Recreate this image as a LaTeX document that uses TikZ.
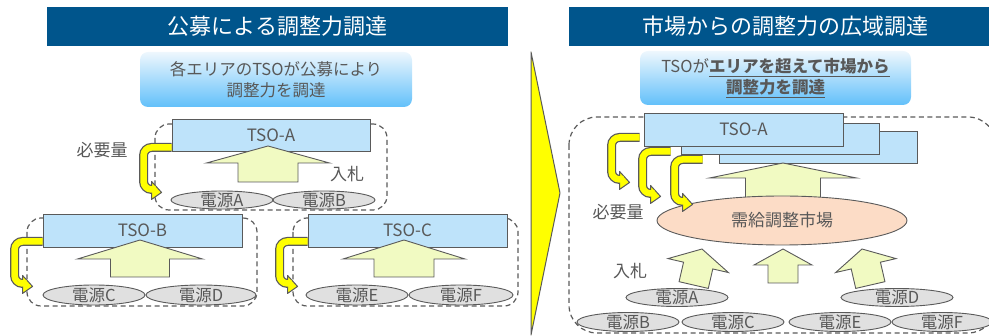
\documentclass[tikz,border=0pt]{standalone}
\usepackage{fontspec}
\setmainfont{Noto Sans CJK JP}
\usetikzlibrary{positioning, calc, shapes.geometric}
\definecolor{TitleBlue}{HTML}{00558C}
\definecolor{BoxBlue}{HTML}{BEE3FA}
\definecolor{SkyTop}{HTML}{EEF7FD}
\definecolor{SkyBottom}{HTML}{62C0FA}
\definecolor{ArrowCream}{HTML}{F1FAC2}
\definecolor{MarketPeach}{HTML}{FCDCC6}
\definecolor{SourceGray}{HTML}{E0E0E0}
\definecolor{EdgeGray}{HTML}{5A5A5A}
\definecolor{TextGray}{HTML}{585858}
\definecolor{HookYellow}{HTML}{FFFF00}

% hook arrow: starts at a box edge, runs left, down, then right
\newcommand{\hookarrow}[1]{%
  \draw[hookedge] (#1) -- ++(-28,0) -- ++(0,42) -- ++(11,0);
  \path (#1) ++(-20,42) coordinate (hk);
  \draw[hookhead] (hk) ++(0,-8) -- ++(10,11) -- ++(-10,7) -- cycle;
  \draw[hookfill] (#1) -- ++(-28,0) -- ++(0,42) -- ++(12,0);
}
% fat arrow: [rotation]{tip}{head half}{head length}{shaft half}{length}
\newcommand{\fatarrow}[6][0]{%
  \draw[fatstyle, shift={#2}, rotate=#1] (0,0) -- (#3,#4) -- (#5,#4) -- (#5,#6)
    -- (-#5,#6) -- (-#5,#4) -- (-#3,#4) -- cycle;
}

\begin{document}
\begin{tikzpicture}[
  x=1pt, y=-1pt,
  font=\fontsize{17}{21}\selectfont, text=TextGray,
  titlebar/.style={rectangle, fill=TitleBlue, text=white, inner sep=0pt,
    minimum height=39pt, font=\fontsize{22}{26}\selectfont},
  subbox/.style={rectangle, rounded corners=8pt, top color=SkyTop,
    bottom color=SkyBottom, inner sep=0pt, align=center,
    font=\fontsize{16.5}{21}\selectfont},
  tsobox/.style={rectangle, draw=EdgeGray, line width=0.9pt, fill=BoxBlue,
    inner sep=0pt},
  srcnode/.style={ellipse, draw=EdgeGray, line width=0.9pt, fill=SourceGray,
    inner sep=0pt, minimum width=102pt, minimum height=18pt},
  srctext/.style={inner sep=0pt, text=TextGray, font=\fontsize{16.5}{20}\selectfont},
  grpbox/.style={draw=EdgeGray, line width=1.2pt, dash pattern=on 5pt off 3.5pt,
    rounded corners=14pt},
  fatstyle/.style={fill=ArrowCream, draw=EdgeGray, line width=0.9pt},
  hookedge/.style={draw=EdgeGray, line width=9pt, rounded corners=8pt},
  hookfill/.style={draw=HookYellow, line width=6.5pt, rounded corners=8pt},
  hookhead/.style={fill=HookYellow, draw=EdgeGray, line width=1pt, line join=round},
  lbl/.style={inner sep=0pt, text=TextGray},
]
  \useasboundingbox (0,0) rectangle (989,336);
  \clip (0,0) rectangle (989,336);

  % Titles
  \node[titlebar, minimum width=461pt] (titleL) at (277.5,26.5) {公募による調整力調達};
  \node[titlebar, minimum width=432pt] (titleR) at (785,26.5) {市場からの調整力の広域調達};

  % Sub titles
  \node[subbox, minimum width=272pt, minimum height=55pt] (subL) at (276,79.5)
    {各エリアのTSOが公募により\\調整力を調達};
  \node[subbox, minimum width=271pt, minimum height=54pt] (subR) at (775.5,78)
    {TSOが\underline{\textbf{エリアを超えて市場から}}\\\underline{\textbf{調整力を調達}}};

  % Middle triangle
  \draw[fill=HookYellow, draw=EdgeGray, line width=1pt, line join=round]
    (531,52) -- (560,193) -- (531,335) -- cycle;

  % ---- Left: area groups
  \draw[grpbox] (155,124) rectangle (387,210);
  \draw[grpbox] (27,218) rectangle (257,306);
  \draw[grpbox] (293,218) rectangle (518,306);

  \node[tsobox, minimum width=198pt, minimum height=32pt] (tsoA) at (271,135) {TSO-A};
  \node[tsobox, minimum width=199pt, minimum height=33pt] (tsoB) at (142.5,230.5) {TSO-B};
  \node[tsobox, minimum width=199pt, minimum height=33pt] (tsoC) at (407.5,230.5) {TSO-C};

  \fatarrow{(268,146)}{61.5}{17}{30}{36}
  \fatarrow{(140,240)}{62.5}{19}{29.5}{37}
  \fatarrow{(404,240)}{61}{19}{30}{37}

  \node[srcnode, label={[srctext]center:電源A}] (srcA) at (222,200) {};
  \node[srcnode, label={[srctext]center:電源B}] (srcB) at (324,200) {};
  \node[srcnode, minimum height=20pt, label={[srctext]center:電源C}] (srcC) at (94,295) {};
  \node[srcnode, minimum width=110pt, minimum height=20pt, label={[srctext]center:電源D}] (srcD) at (201,295) {};
  \node[srcnode, minimum height=20pt, label={[srctext]center:電源E}] (srcE) at (357,295) {};
  \node[srcnode, minimum width=104pt, minimum height=20pt, label={[srctext]center:電源F}] (srcF) at (461,295) {};

  \node[lbl] (needL) at (102,150) {必要量};
  \node[lbl] (bidL) at (347,174) {入札};

  \hookarrow{[yshift=4pt]tsoA.south west}
  \hookarrow{[yshift=6pt]tsoB.south west}
  \hookarrow{[yshift=6pt]tsoC.south west}

  % ---- Right: wide area market
  \draw[grpbox, rounded corners=28pt] (569,117) rectangle (996,333);

  \node[tsobox, minimum width=198pt, minimum height=32pt] (tsoR3) at (818,147) {};
  \node[tsobox, minimum width=198pt, minimum height=31pt] (tsoR2) at (780,138.5) {};
  \node[tsobox, minimum width=199pt, minimum height=33pt] (tsoR1) at (743.5,129.5) {TSO-A};

  \fatarrow{(783,163)}{73.5}{15}{37.5}{45}

  \node[ellipse, draw=EdgeGray, line width=0.9pt, fill=MarketPeach, inner sep=0pt,
    minimum width=250pt, minimum height=49pt] (market) at (782,220.5) {需給調整市場};

  \fatarrow[-13]{(702,249)}{31}{17}{15}{37}
  \fatarrow{(783,249)}{29}{16}{15}{34}
  \fatarrow[13]{(862,249)}{31}{17}{15}{37}

  \node[srcnode, label={[srctext]center:電源A}] (srcRA) at (677,297.5) {};
  \node[srcnode, minimum width=112pt, label={[srctext]center:電源D}] (srcRD) at (897,297.5) {};
  \node[srcnode, minimum height=19pt, label={[srctext]center:電源B}] (srcRB) at (628,322) {};
  \node[srcnode, minimum height=19pt, label={[srctext]center:電源C}] (srcRC) at (733,322) {};
  \node[srcnode, minimum height=19pt, label={[srctext]center:電源E}] (srcRE) at (840,322) {};
  \node[srcnode, minimum width=100pt, minimum height=19pt, label={[srctext]center:電源F}] (srcRF) at (942,322) {};

  \node[lbl] (needR) at (618,212) {必要量};
  \node[lbl] (bidR) at (630,271) {入札};

  \hookarrow{[xshift=-4pt, yshift=9pt]tsoR1.south west}
  \hookarrow{[xshift=-10pt, yshift=3pt]tsoR2.south west}
  \hookarrow{[xshift=-16pt, yshift=4pt]tsoR3.south west}
\end{tikzpicture}
\end{document}
